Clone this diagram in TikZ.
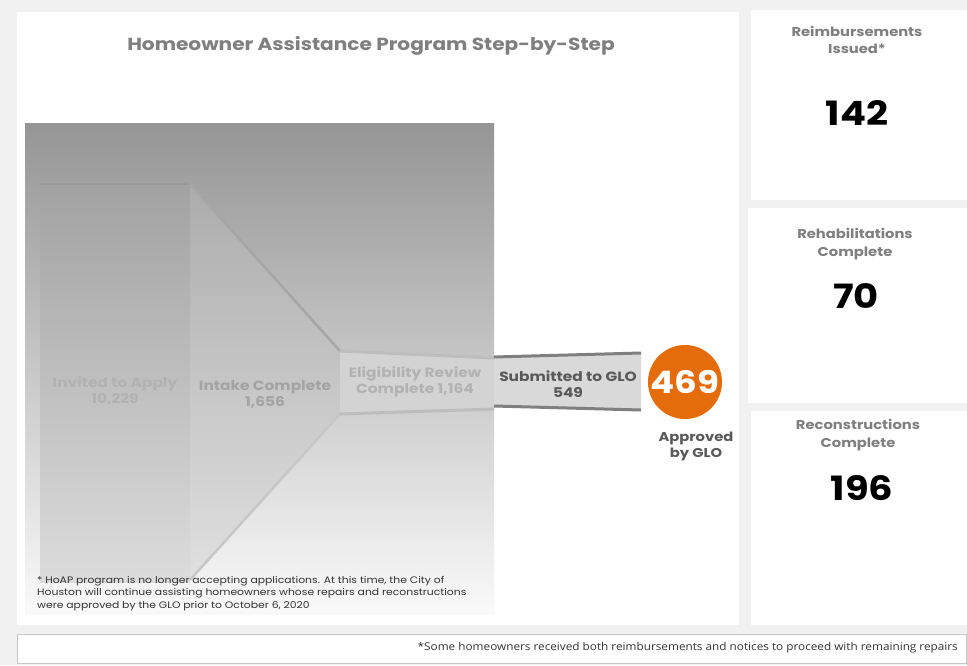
\documentclass[tikz,border=0pt]{standalone}
\usepackage{fontspec}
\setmainfont{Poppins}[FakeStretch=1.15]
\newfontfamily\osans{Open Sans}[FakeStretch=1.1]
\definecolor{bgc}{HTML}{F1F1F1}
\definecolor{gtop}{HTML}{959595}
\definecolor{gmid}{HTML}{D9D9D9}
\definecolor{invc}{HTML}{A2A2A2}
\definecolor{invm}{HTML}{B4B4B4}
\definecolor{invb}{HTML}{DCDCDC}
\definecolor{intc}{HTML}{ACACAC}
\definecolor{intm}{HTML}{C0C0C0}
\definecolor{intb}{HTML}{E0E0E0}
\definecolor{eligc}{HTML}{D3D3D3}
\definecolor{eline}{HTML}{BDBDBD}
\definecolor{subc}{HTML}{D9D9D9}
\definecolor{sline}{HTML}{7F7F7F}
\definecolor{orng}{HTML}{E46C0A}
\definecolor{ttl}{HTML}{7F7F7F}
\definecolor{dk}{HTML}{595959}
\tikzset{
  lbl/.style={align=center, font=\bfseries\fontsize{13.4}{16}\selectfont, inner sep=0pt},
  cardttl/.style={align=center, text=ttl, font=\bfseries\fontsize{12.8}{17.5}\selectfont, inner sep=0pt},
  cardnum/.style={text=black, font=\bfseries\fontsize{33.5}{36}\selectfont, inner sep=0pt},
  card/.style={fill=white, draw=none}
}
\begin{document}
\begin{tikzpicture}[x=1pt,y=-1pt]
\useasboundingbox (0,0) rectangle (967,665);
\fill[bgc] (0,0) rectangle (967,665);
% panels
\fill[white] (17,12) rectangle (739,625);
\fill[card] (751,10) rectangle (967,200);
\fill[card] (748,208) rectangle (967,403);
\fill[card] (751,411) rectangle (967,625);
\fill[white, draw=black!22] (17,634) rectangle (966,663);
% gradient backdrop
\shade[top color=gtop, middle color=gmid, bottom color=white!98!black] (25,123) rectangle (494,614);
% funnel
\shade[top color=invc, middle color=invm, bottom color=invb] (40,184) rectangle (190,582);
\draw[invc!95!black, line width=2.5] (40,184) -- (190,184);
\shade[top color=intc, middle color=intm, bottom color=intb] (190,184) -- (340,351) -- (340,414) -- (190,580) -- cycle;
\draw[black!35, line width=2.5] (190,184) -- (340,351);
\draw[black!22, line width=2.5] (340,414) -- (190,580);
\fill[eligc] (340,351) -- (494,358) -- (494,409) -- (340,414) -- cycle;
\draw[eline, line width=3] (340,351) -- (494,358);
\draw[eline, line width=3] (340,414) -- (494,409);
\fill[subc] (494,357) -- (641,353) -- (641,410) -- (494,406) -- cycle;
\draw[sline, line width=3] (494,357) -- (641,353);
\draw[sline, line width=3] (494,406) -- (641,410);
% texts
\node[font=\bfseries\fontsize{17.5}{20}\selectfont, text=ttl, inner sep=0pt] (title) at (371,46) {Homeowner Assistance Program Step-by-Step};
\node[lbl, text=black!30] (inv) at (115,391) {Invited to Apply\\10,229};
\node[lbl, text=black!36] (intk) at (265,394) {Intake Complete\\1,656};
\node[lbl, text=black!30] (elig) at (415,382) {Eligibility Review\\Complete 1,164};
\node[lbl, text=dk] (subm) at (568,384) {Submitted to GLO\\549};
\node[circle, fill=orng, minimum size=74pt, inner sep=0pt, text=white, font=\bfseries\fontsize{31}{34}\selectfont] (circ) at (685,382) {469};
\node[lbl, font=\bfseries\fontsize{12.8}{16}\selectfont, text=dk] (appr) at (696,446) {Approved\\by GLO};
\node[anchor=north west, align=left, text=black!80, font=\fontsize{9.4}{12.6}\selectfont, inner sep=0pt] (fn) at (37,576) {* HoAP program is no longer accepting applications. At this time, the City of\\Houston will continue assisting homeowners whose repairs and reconstructions\\were approved by the GLO prior to October 6, 2020};
% cards
\node[cardttl] (r1t) at (857,40) {Reimbursements\\Issued*};
\node[cardnum] (r1n) at (857,113) {142};
\node[cardttl] (r2t) at (855,244) {Rehabilitations\\Complete};
\node[cardnum] (r2n) at (856,296) {70};
\node[cardttl] (r3t) at (858,435) {Reconstructions\\Complete};
\node[cardnum] (r3n) at (862,488) {196};
\node[anchor=east, text=black!80, font=\osans\fontsize{10.7}{12}\selectfont, inner sep=0pt] (note) at (958,648) {*Some homeowners received both reimbursements and notices to proceed with remaining repairs};
\end{tikzpicture}
\end{document}
